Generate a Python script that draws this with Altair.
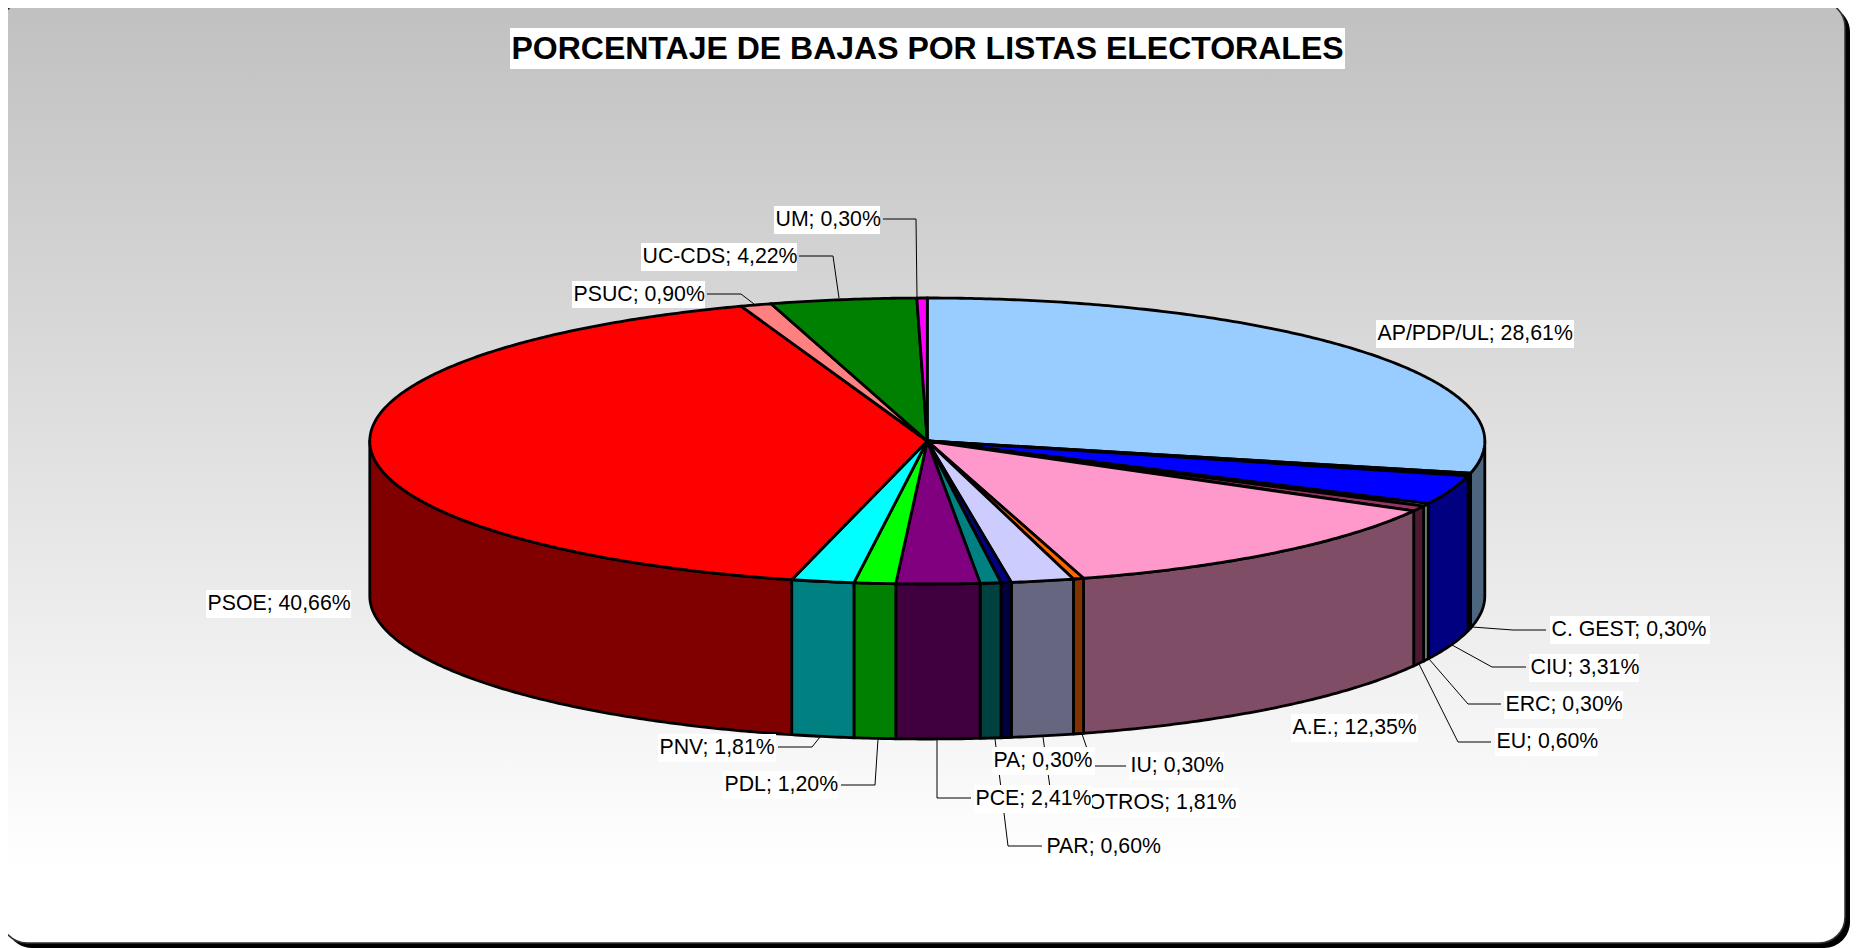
import math
import altair as alt
import pandas as pd

# ---- chart values, clockwise from twelve o'clock ----
names = ["AP/PDP/UL", "C. GEST", "CIU", "ERC", "EU", "A.E.", "IU", "OTROS", "PA", "PAR",
         "PCE", "PDL", "PNV", "PSOE", "PSUC", "UC-CDS", "UM"]
values = [28.61, 0.30, 3.31, 0.30, 0.60, 12.35, 0.30, 1.81, 0.30, 0.60,
          2.41, 1.20, 1.81, 40.66, 0.90, 4.22, 0.30]
top_colors = ["#99CCFF", "#333333", "#0000FF", "#CCFFCC", "#993366", "#FF99CC", "#FF6600", "#CCCCFF",
              "#000080", "#008080", "#800080", "#00FF00", "#00FFFF", "#FF0000", "#FF8080", "#008000", "#FF00FF"]
side_colors = ["#4D6680", "#1A1A1A", "#000080", "#668066", "#4D1933", "#804D66", "#803300", "#666680",
               "#000040", "#004040", "#400040", "#008000", "#008080", "#800000", "#804040", "#004000", "#800080"]
title_text = "PORCENTAJE DE BAJAS POR LISTAS ELECTORALES"

# ---- layout (page pixels of the 1858x948 frame) ----
CX, CY, RX, RY, DEPTH = 927.3, 441.0, 557.5, 143.0, 155.0
PAGE_RIGHT = 1850   # the page's 8px margin leaves this much room
PAGE_BOTTOM = 948
label_order = ["AP/PDP/UL", "C. GEST", "CIU", "ERC", "EU", "A.E.", "IU", "PA", "OTROS", "PCE", "PAR",
               "PNV", "PDL", "PSOE", "UM", "UC-CDS", "PSUC"]
label_boxes = {
    "AP/PDP/UL": (1376, 1574, 320, 348), "C. GEST": (1550, 1710, 616, 644), "CIU": (1529, 1639, 654, 682),
    "ERC": (1504, 1623, 691, 719), "EU": (1495, 1598, 728, 756), "A.E.": (1291, 1418, 714, 742),
    "IU": (1129, 1224, 752, 780), "PA": (992, 1095, 747, 775), "OTROS": (1087, 1239, 788, 817),
    "PCE": (974, 1092, 785, 813), "PAR": (1045, 1163, 833, 861), "PNV": (658, 776, 734, 762),
    "PDL": (723, 838, 771, 799), "PSOE": (206, 351, 590, 618), "UM": (774, 880, 206, 234),
    "UC-CDS": (641, 797, 243, 271), "PSUC": (572, 705, 281, 308),
}
leaders = {
    "C. GEST": [(1472, 627), (1513, 630), (1546, 630)], "CIU": [(1452, 645), (1492, 667), (1526, 667)],
    "ERC": [(1429, 659), (1468, 704), (1501, 704)], "EU": [(1419, 664), (1458, 742), (1491, 742)],
    "IU": [(1082, 734), (1093, 766), (1126, 766)], "OTROS": [(1043, 737), (1052, 802), (1085, 802)],
    "PAR": [(995, 739), (1008, 846), (1042, 846)], "PCE": [(937, 739), (937, 798), (971, 798)],
    "PDL": [(878, 739), (875, 785), (841, 785)], "PNV": [(820, 737), (812, 747), (778, 747)],
    "UM": [(917, 297), (916, 219), (883, 219)], "UC-CDS": [(839, 298), (833, 256), (799, 256)],
    "PSUC": [(754, 304), (741, 294), (707, 294)],
}

# ---- geometry derived from the values ----
def pt(deg, dy=0.0):
    a = math.radians(deg)
    return [CX + RX * math.sin(a), CY - RY * math.cos(a) + dy]

def arc(a, b):
    n = max(2, int((b - a) * 2) + 2)
    return [pt(a + (b - a) * i / (n - 1)) for i in range(n)]

total = sum(values)
walls, tops = [], []
acc = 0.0
for name, v, tc, sc in zip(names, values, top_colors, side_colors):
    a, b = acc / total * 360, (acc + v) / total * 360
    acc += v
    lo, hi = max(a, 90.0), min(b, 270.0)
    if hi > lo:
        upper = arc(lo, hi)
        lower = [[x, y + DEPTH] for x, y in reversed(upper)]
        ring = upper + lower + [upper[0]]
        walls.append({"type": "Feature", "properties": {"fill": sc, "name": name},
                      "geometry": {"type": "Polygon", "coordinates": [ring]}})
    ring = [[CX, CY]] + arc(a, b) + [[CX, CY]]
    tops.append({"type": "Feature", "properties": {"fill": tc, "name": name},
                 "geometry": {"type": "Polygon", "coordinates": [ring]}})

x_s = alt.Scale(domain=[8, PAGE_RIGHT], nice=False, zero=False)
y_s = alt.Scale(domain=[PAGE_BOTTOM, 8], nice=False, zero=False)
X = lambda f: alt.X(f, scale=x_s, axis=None)
Y = lambda f: alt.Y(f, scale=y_s, axis=None)

def frame(df, **kw):
    return alt.Chart(df).mark_rect(cornerRadius=26, **kw).encode(
        x=X("x0:Q"), x2="x1:Q", y=Y("y0:Q"), y2="y1:Q")

shadow = frame(pd.DataFrame({"x0": [6], "x1": [PAGE_RIGHT], "y0": [6], "y1": [PAGE_BOTTOM]}), color="black")
panel = frame(pd.DataFrame({"x0": [1], "x1": [PAGE_RIGHT - 5], "y0": [1], "y1": [PAGE_BOTTOM - 5]}),
              fill=alt.Gradient(gradient="linear", x1=0, x2=0, y1=0, y2=1,
                                stops=[alt.GradientStop(color="#C0C0C0", offset=0),
                                       alt.GradientStop(color="#FFFFFF", offset=0.92),
                                       alt.GradientStop(color="#FFFFFF", offset=1)]),
              stroke="#333333", strokeWidth=1.5)

def shapes(features):
    return (alt.Chart(alt.Data(values=features))
            .mark_geoshape(stroke="black", strokeWidth=2.8, strokeJoin="round")
            .encode(color=alt.Color("properties.fill:N", scale=None))
            .project(type="identity", scale=1, translate=[-8, -8]))

leader_rows = [{"name": n, "i": i, "x": p[0], "y": p[1]} for n, pts in leaders.items() for i, p in enumerate(pts)]
leader_layer = alt.Chart(pd.DataFrame(leader_rows)).mark_line(color="black", strokeWidth=1).encode(
    x=X("x:Q"), y=Y("y:Q"), detail="name:N", order="i:Q")

lookup = dict(zip(names, values))
label_df = pd.DataFrame([
    {"text": f"{n}; " + f"{lookup[n]:.2f}".replace(".", ",") + "%",
     "x0": label_boxes[n][0], "x1": label_boxes[n][1], "y0": label_boxes[n][2], "y1": label_boxes[n][3],
     "tx": label_boxes[n][0] + 1.5, "ty": (label_boxes[n][2] + label_boxes[n][3]) / 2, "k": i}
    for i, n in enumerate(label_order)])

# each box followed by its own text, so a later box covers an earlier text
label_layers = []
for _, row in label_df.iterrows():
    one = pd.DataFrame([row.to_dict()])
    label_layers.append(alt.Chart(one).mark_rect(color="white").encode(
        x=X("x0:Q"), x2="x1:Q", y=Y("y0:Q"), y2="y1:Q"))
    label_layers.append(alt.Chart(one).mark_text(
        align="left", baseline="middle", font="Liberation Sans", fontSize=21.3, color="black"
    ).encode(x=X("tx:Q"), y=Y("ty:Q"), text="text:N"))

title_df = pd.DataFrame({"x0": [510], "x1": [1345], "y0": [28], "y1": [69], "tx": [927.5], "ty": [48.5], "text": [title_text]})
title_box = alt.Chart(title_df).mark_rect(color="white").encode(x=X("x0:Q"), x2="x1:Q", y=Y("y0:Q"), y2="y1:Q")
title_txt = alt.Chart(title_df).mark_text(
    align="center", baseline="middle", font="Liberation Sans", fontWeight="bold", fontSize=32, color="black"
).encode(x=X("tx:Q"), y=Y("ty:Q"), text="text:N")

chart = alt.layer(shadow, panel, shapes(walls), shapes(tops), leader_layer, *label_layers, title_box, title_txt).properties(
    width=PAGE_RIGHT - 8, height=PAGE_BOTTOM - 8, padding=0, autosize=alt.AutoSizeParams(type="none"), background="white"
).configure_view(stroke=None)

chart.save("out.html", embed_options={"renderer": "svg", "actions": False})
